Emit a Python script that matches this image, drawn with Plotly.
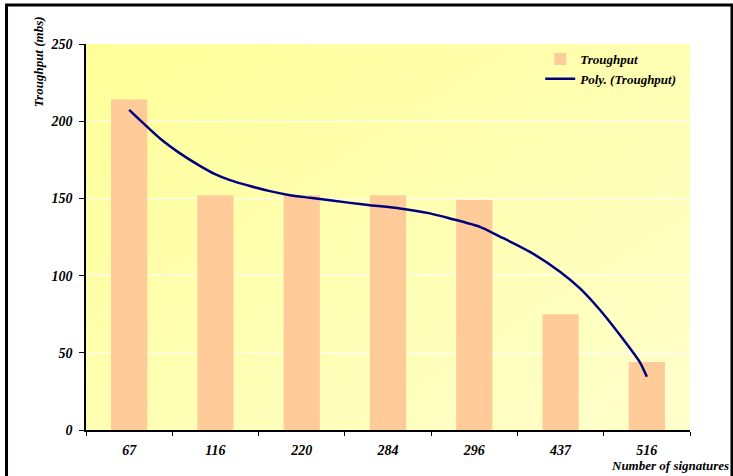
import base64
import plotly.graph_objects as go

# ---- data ----
categories = ["67", "116", "220", "284", "296", "437", "516"]
throughput = [214, 152, 152, 152, 149, 75, 44]

# polynomial trendline (position in category units, value)
trend_pos = [0, 0.358, 0.594, 0.825, 0.995, 1.169, 1.4, 1.632, 1.864, 2.096, 2.56, 2.791,
             3.139, 3.486, 3.718, 4.065, 4.297, 4.645, 4.993, 5.225, 5.457, 5.688, 5.92, 6.0]
trend_val = [207.3, 188.8, 179, 170.9, 165.7, 161.8, 158, 154.7, 152.1, 150.4, 147.1, 145.6,
             143.5, 140.3, 137, 131.6, 125.3, 115.4, 102.5, 91.7, 77.7, 61.5, 43.8, 34.5]

y_ticks = [0, 50, 100, 150, 200, 250]

FONT = "Liberation Serif"
def bi(size):
    return dict(family=FONT, size=size, color="black", weight="bold", style="italic")

svg = ("<svg xmlns='http://www.w3.org/2000/svg' width='604' height='386' preserveAspectRatio='none'>"
       "<defs><linearGradient id='g' x1='0' y1='0' x2='1' y2='1'>"
       "<stop offset='0' stop-color='#FFFF99'/><stop offset='1' stop-color='#FFFFCC'/>"
       "</linearGradient></defs><rect width='604' height='386' fill='url(#g)'/></svg>")
bg_src = "data:image/svg+xml;base64," + base64.b64encode(svg.encode()).decode()

fig = go.Figure()
fig.add_trace(go.Bar(
    x=categories, y=throughput, name="Troughput",
    marker=dict(color="#FFCC99", line=dict(width=0)), width=0.42,
))
fig.add_trace(go.Scatter(
    x=trend_pos, y=trend_val, name="Poly. (Troughput)", xaxis="x2",
    mode="lines", line=dict(color="#000080", width=2.5, shape="spline", smoothing=0.6),
))

fig.update_layout(
    width=733, height=476,
    margin=dict(l=86, r=43, t=44, b=46),
    paper_bgcolor="white", plot_bgcolor="rgba(0,0,0,0)",
    showlegend=True,
    legend=dict(x=0.752, y=1.0, xanchor="left", yanchor="top",
                bgcolor="rgba(0,0,0,0)", font=bi(13), tracegroupgap=2),
    xaxis=dict(type="category", range=[-0.5, 6.5], tickson="boundaries",
               ticks="outside", ticklen=4, tickcolor="black", tickwidth=1,
               showline=True, linecolor="black", linewidth=1.5, showgrid=False,
               tickfont=bi(14), zeroline=False, ticklabelstandoff=6),
    xaxis2=dict(overlaying="x", range=[-0.5, 6.5], visible=False, showgrid=False),
    yaxis=dict(range=[0, 250], tickvals=y_ticks, ticks="outside", ticklen=5,
               tickcolor="black", showline=True, linecolor="black", linewidth=1.5,
               showgrid=True, gridcolor="white", gridwidth=1, zeroline=False,
               tickfont=bi(14), ticklabelstandoff=4),
    images=[dict(source=bg_src, xref="paper", yref="paper", x=0, y=1, sizex=1, sizey=1,
                 xanchor="left", yanchor="top", sizing="stretch", layer="below")],
    annotations=[
        dict(text="Troughput (mbs)", xref="paper", yref="paper", x=-0.0795, y=0.955,
             xanchor="center", yanchor="middle",
             textangle=-90, showarrow=False, font=bi(13)),
        dict(text="Number of signatures", xref="paper", yref="paper", x=1.068, y=-0.093,
             xanchor="right", yanchor="middle", showarrow=False, font=bi(13)),
    ],
    shapes=[dict(type="rect", xref="paper", yref="paper", x0=-0.1316, x1=1.0695,
                 y0=-0.2, y1=1.101, line=dict(color="black", width=3))],
)

fig.write_html("out.html", post_script="document.body.style.margin='0';",
               config={"displayModeBar": False})
